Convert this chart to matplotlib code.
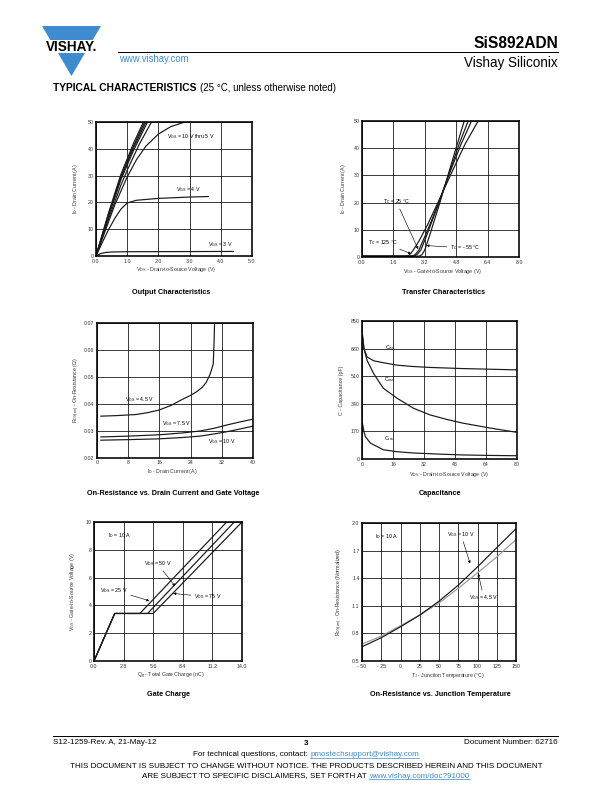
import matplotlib
matplotlib.use('Agg')
import matplotlib.pyplot as plt
from matplotlib.patches import Polygon
from matplotlib.lines import Line2D

plt.rcParams['font.family'] = ['Liberation Sans', 'DejaVu Sans']
plt.rcParams['mathtext.fontset'] = 'custom'
plt.rcParams['mathtext.rm'] = 'Liberation Sans'
plt.rcParams['mathtext.it'] = 'Liberation Sans'
plt.rcParams['mathtext.bf'] = 'Liberation Sans:bold'

# ---------------- DATA ----------------
# Output characteristics (VDS [V], ID [A])
out_vds_10 = [0, 0.4, 0.8, 1.2, 1.52]
out_id_10 = [0, 16, 30.5, 42, 50]
out_vds_9 = [0, 0.4, 0.8, 1.2, 1.56]
out_id_9 = [0, 15.6, 29.8, 41, 50]
out_vds_8 = [0, 0.4, 0.8, 1.2, 1.60]
out_id_8 = [0, 15.2, 29.2, 40.2, 50]
out_vds_7 = [0, 0.4, 0.8, 1.2, 1.65]
out_id_7 = [0, 14.8, 28.5, 39.3, 50]
out_vds_6 = [0, 0.4, 0.8, 1.0, 1.4, 1.78]
out_id_6 = [0, 13.8, 26.5, 32, 42, 50]
out_vds_5 = [0, 0.3, 0.6, 1.0, 1.3, 1.6, 2.0, 2.4, 2.8]
out_id_5 = [0, 9.5, 19, 29.5, 36, 41, 45.5, 48.3, 49.8]
out_vds_4 = [0, 0.2, 0.4, 0.6, 0.8, 1.0, 1.3, 2.0, 3.0, 3.6]
out_id_4 = [0, 5, 9.8, 14, 17.5, 19.8, 20.8, 21.5, 22.0, 22.2]
out_vds_3 = [0, 0.15, 0.3, 0.5, 1.0, 4.4]
out_id_3 = [0, 0.9, 1.3, 1.5, 1.6, 1.7]

# Transfer characteristics (VGS [V], ID [A])
tr_vgs_m55 = [0, 2.9, 3.05, 3.2, 3.45, 3.7, 3.97, 4.4, 4.8, 5.21]
tr_id_m55 = [0.3, 0.3, 0.8, 2.6, 8, 13.8, 20, 30.5, 40.2, 50]
tr_vgs_25 = [0, 2.6, 2.8, 3.0, 3.3, 3.6, 3.95, 4.45, 4.95, 5.41]
tr_id_25 = [0.3, 0.3, 0.8, 2.6, 8, 13.8, 20.5, 31, 41.5, 50]
tr_vgs_b = [0, 2.5, 2.7, 2.9, 3.2, 3.55, 3.93, 4.5, 5.05, 5.58]
tr_id_b = [0.3, 0.3, 0.8, 2.6, 7.5, 13.5, 20.5, 31.5, 41.5, 50]
tr_vgs_125 = [0, 2.2, 2.4, 2.6, 2.9, 3.35, 3.9, 4.6, 5.25, 5.92]
tr_id_125 = [0.3, 0.3, 0.6, 2.4, 5.8, 12, 20.5, 31.5, 41.5, 50]

# On-resistance vs drain current (ID [A], RDS(on) [ohm])
ron_id_45 = [1, 5, 10, 13, 16, 19, 22, 24, 25.5, 27, 28, 29, 29.8, 30.0, 30.15]
ron_r_45 = [0.0355, 0.0357, 0.0361, 0.0368, 0.0378, 0.0395, 0.0418, 0.0432, 0.0445, 0.0462, 0.048, 0.051, 0.0548, 0.062, 0.070]
ron_id_75 = [1, 8, 16, 22, 26.4, 30, 33.2, 36.5, 40]
ron_r_75 = [0.0278, 0.0281, 0.0286, 0.0293, 0.0300, 0.0310, 0.0322, 0.0333, 0.0344]
ron_id_10 = [1, 8, 16, 22, 26.4, 30, 33.2, 36.5, 40]
ron_r_10 = [0.0266, 0.0268, 0.0271, 0.0276, 0.0281, 0.0289, 0.0297, 0.0307, 0.0318]

# Capacitance (VDS [V], C [pF])
cap_v_iss = [0.3, 1, 2.6, 6, 11, 18, 26, 35, 52, 66, 80]
cap_c_iss = [760, 680, 629, 605, 593, 578, 570, 564, 557, 553, 549]
cap_v_oss = [0.3, 1, 2.6, 6, 11, 18, 26.5, 35, 44, 52, 66, 80]
cap_c_oss = [750, 680, 608, 526, 436, 375, 313, 272, 243, 221, 191, 164]
cap_v_rss = [0.3, 1, 1.7, 4.3, 11, 18, 26.5, 40, 52, 66, 80]
cap_c_rss = [215, 170, 139, 98, 57, 45, 37, 30, 25, 22, 20]

# Gate charge (Qg [nC], VGS [V])
gc_q_25 = [0, 1.96, 4.34, 12.55]
gc_v_25 = [0, 3.42, 3.42, 10]
gc_q_50 = [0, 1.96, 5.07, 13.27]
gc_v_50 = [0, 3.42, 3.42, 10]
gc_q_75 = [0, 1.96, 5.60, 14.0]
gc_v_75 = [0, 3.42, 3.42, 10]

# On-resistance vs junction temperature (TJ [C], normalized)
rt_t = [-50, -25, 0, 25, 50, 75, 100, 125, 150]
rt_r_10 = [0.655, 0.753, 0.872, 0.999, 1.15, 1.324, 1.523, 1.732, 1.938]
rt_r_45 = [0.684, 0.771, 0.883, 1.0, 1.13, 1.29, 1.458, 1.631, 1.82]

# Ticks
out_xticks = [0, 1, 2, 3, 4, 5]
out_xtl = ['0.0', '1.0', '2.0', '3.0', '4.0', '5.0']
id_yticks = [0, 10, 20, 30, 40, 50]
id_ytl = ['0', '10', '20', '30', '40', '50']
tr_xticks = [0, 1.6, 3.2, 4.8, 6.4, 8.0]
tr_xtl = ['0.0', '1.6', '3.2', '4.8', '6.4', '8.0']
ron_xticks = [0, 8, 16, 24, 32, 40]
ron_xtl = ['0', '8', '16', '24', '32', '40']
ron_yticks = [0.02, 0.03, 0.04, 0.05, 0.06, 0.07]
ron_ytl = ['0.02', '0.03', '0.04', '0.05', '0.06', '0.07']
cap_xticks = [0, 16, 32, 48, 64, 80]
cap_xtl = ['0', '16', '32', '48', '64', '80']
cap_yticks = [0, 170, 340, 510, 680, 850]
cap_ytl = ['0', '170', '340', '510', '680', '850']
gc_xticks = [0, 2.8, 5.6, 8.4, 11.2, 14.0]
gc_xtl = ['0.0', '2.8', '5.6', '8.4', '11.2', '14.0']
gc_yticks = [0, 2, 4, 6, 8, 10]
gc_ytl = ['0', '2', '4', '6', '8', '10']
rt_xticks = [-50, -25, 0, 25, 50, 75, 100, 125, 150]
rt_xtl = ['- 50', '- 25', '0', '25', '50', '75', '100', '125', '150']
rt_yticks = [0.5, 0.8, 1.1, 1.4, 1.7, 2.0]
rt_ytl = ['0.5', '0.8', '1.1', '1.4', '1.7', '2.0']

# ---------------- FIGURE ----------------
W, H = 612, 792
fig = plt.figure(figsize=(8.5, 11), dpi=72)
fig.patch.set_facecolor('white')

def rect(l, t, r, b):
    return [l / W, 1 - b / H, (r - l) / W, (b - t) / H]

def ft(x, y, s, **kw):
    return fig.text(x / W, 1 - y / H, s, **kw)

TICK_FS = 5.3
LAB_FS = 5.3
ANN_FS = 5.2
TITLE_FS = 7.2
LW = 1.2
ARROW = dict(arrowstyle='-|>', lw=0.6, color='black', mutation_scale=5, shrinkA=1, shrinkB=0)

def style(ax, xlim, ylim, xt, xtl, yt, ytl):
    ax.set_xlim(xlim)
    ax.set_ylim(ylim)
    ax.set_xticks(xt)
    ax.set_xticklabels(xtl)
    ax.set_yticks(yt)
    ax.set_yticklabels(ytl)
    ax.tick_params(length=0, pad=2.5, labelsize=TICK_FS, colors='#333333')
    ax.grid(True, color='black', lw=0.75)
    ax.set_axisbelow(True)
    for s in ax.spines.values():
        s.set_linewidth(1.6)

def labels(xc, xy, xs, yc, yy, ys):
    ft(xc, xy, xs, ha='center', va='center', fontsize=LAB_FS, color='#333333')
    ft(yc, yy, ys, ha='center', va='center', fontsize=LAB_FS, color='#333333', rotation=90)

# 1. Output characteristics
ax1 = fig.add_axes(rect(96, 122, 252, 256))
style(ax1, (0, 5), (0, 50), out_xticks, out_xtl, id_yticks, id_ytl)
for xs, ys in [(out_vds_10, out_id_10), (out_vds_9, out_id_9), (out_vds_8, out_id_8),
               (out_vds_7, out_id_7), (out_vds_6, out_id_6), (out_vds_5, out_id_5),
               (out_vds_4, out_id_4), (out_vds_3, out_id_3)]:
    ax1.plot(xs, ys, color='#1a1a1a', lw=LW, clip_on=True)
ax1.text(2.26, 44.4, 'V$_{\\mathrm{GS}}$ = 10 V thru 5 V', fontsize=ANN_FS, va='center')
ax1.text(2.58, 24.9, 'V$_{\\mathrm{GS}}$ = 4 V', fontsize=ANN_FS, va='center')
ax1.text(3.6, 4.1, 'V$_{\\mathrm{GS}}$ = 3 V', fontsize=ANN_FS, va='center')
labels(176, 270, 'V$_{\\mathrm{DS}}$ - Drain-to-Source Voltage (V)', 75, 189, 'I$_{\\mathrm{D}}$ - Drain Current (A)')
ft(171, 292.5, 'Output Characteristics', ha='center', va='center', fontsize=TITLE_FS, weight='bold')

# 2. Transfer characteristics
ax2 = fig.add_axes(rect(362, 121, 519, 257))
style(ax2, (0, 8), (0, 50), tr_xticks, tr_xtl, id_yticks, id_ytl)
for xs, ys in [(tr_vgs_m55, tr_id_m55), (tr_vgs_25, tr_id_25), (tr_vgs_b, tr_id_b), (tr_vgs_125, tr_id_125)]:
    ax2.plot(xs, ys, color='#1a1a1a', lw=LW)
ax2.annotate('T$_{\\mathrm{C}}$ = 25 °C', xy=(2.86, 2.9), xytext=(1.75, 20.4), fontsize=ANN_FS,
             ha='center', va='center', arrowprops=ARROW)
ax2.annotate('T$_{\\mathrm{C}}$ = 125 °C', xy=(2.5, 1.2), xytext=(1.05, 5.4), fontsize=ANN_FS,
             ha='center', va='center', arrowprops=ARROW)
ax2.annotate('T$_{\\mathrm{C}}$ = - 55 °C', xy=(3.28, 4.2), xytext=(5.25, 3.3), fontsize=ANN_FS,
             ha='center', va='center', arrowprops=ARROW)
labels(443, 271, 'V$_{\\mathrm{GS}}$ - Gate-to-Source Voltage (V)', 343, 189, 'I$_{\\mathrm{D}}$ - Drain Current (A)')
ft(444, 292.5, 'Transfer Characteristics', ha='center', va='center', fontsize=TITLE_FS, weight='bold')

# 3. On-resistance vs drain current
ax3 = fig.add_axes(rect(97, 323, 253, 458))
style(ax3, (0, 40), (0.02, 0.07), ron_xticks, ron_xtl, ron_yticks, ron_ytl)
for xs, ys in [(ron_id_45, ron_r_45), (ron_id_75, ron_r_75), (ron_id_10, ron_r_10)]:
    ax3.plot(xs, ys, color='#1a1a1a', lw=LW)
ax3.text(7.2, 0.0417, 'V$_{\\mathrm{GS}}$ = 4.5 V', fontsize=ANN_FS, va='center')
ax3.text(16.6, 0.0328, 'V$_{\\mathrm{GS}}$ = 7.5 V', fontsize=ANN_FS, va='center')
ax3.text(28.5, 0.0262, 'V$_{\\mathrm{GS}}$ = 10 V', fontsize=ANN_FS, va='center')
labels(172, 471, 'I$_{\\mathrm{D}}$ - Drain Current (A)', 76.5, 390, 'R$_{\\mathrm{DS(on)}}$ - On-Resistance (Ω)')
ft(173, 493, 'On-Resistance vs. Drain Current and Gate Voltage', ha='center', va='center', fontsize=TITLE_FS, weight='bold')

# 4. Capacitance
ax4 = fig.add_axes(rect(362, 321, 517, 459))
style(ax4, (0, 80), (0, 850), cap_xticks, cap_xtl, cap_yticks, cap_ytl)
for xs, ys in [(cap_v_iss, cap_c_iss), (cap_v_oss, cap_c_oss), (cap_v_rss, cap_c_rss)]:
    ax4.plot(xs, ys, color='#1a1a1a', lw=LW)
ax4.text(12, 684, 'C$_{\\mathrm{iss}}$', fontsize=ANN_FS, va='center')
ax4.text(11.5, 488, 'C$_{\\mathrm{oss}}$', fontsize=ANN_FS, va='center')
ax4.text(11.5, 123, 'C$_{\\mathrm{rss}}$', fontsize=ANN_FS, va='center')
labels(449, 474.5, 'V$_{\\mathrm{DS}}$ - Drain-to-Source Voltage (V)', 341.5, 390, 'C - Capacitance (pF)')
ft(440, 493, 'Capacitance', ha='center', va='center', fontsize=TITLE_FS, weight='bold')

# 5. Gate charge
ax5 = fig.add_axes(rect(94, 522, 242, 661))
style(ax5, (0, 14), (0, 10), gc_xticks, gc_xtl, gc_yticks, gc_ytl)
for xs, ys in [(gc_q_25, gc_v_25), (gc_q_50, gc_v_50), (gc_q_75, gc_v_75)]:
    ax5.plot(xs, ys, color='#1a1a1a', lw=LW)
ax5.text(1.33, 9.0, 'I$_{\\mathrm{D}}$ = 10 A', fontsize=ANN_FS, va='center')
ax5.annotate('V$_{\\mathrm{DS}}$ = 50 V', xy=(7.67, 5.38), xytext=(6.0, 7.0), fontsize=ANN_FS,
             ha='center', va='center', arrowprops=ARROW)
ax5.annotate('V$_{\\mathrm{DS}}$ = 25 V', xy=(5.23, 4.33), xytext=(1.9, 5.1), fontsize=ANN_FS,
             ha='center', va='center', arrowprops=ARROW)
ax5.annotate('V$_{\\mathrm{DS}}$ = 75 V', xy=(7.5, 4.86), xytext=(10.75, 4.62), fontsize=ANN_FS,
             ha='center', va='center', arrowprops=ARROW)
labels(171, 676, 'Q$_{\\mathrm{g}}$ - Total Gate Charge (nC)', 72.5, 591, 'V$_{\\mathrm{GS}}$ - Gate-to-Source Voltage (V)')
ft(168, 694, 'Gate Charge', ha='center', va='center', fontsize=TITLE_FS, weight='bold')

# 6. On-resistance vs junction temperature
ax6 = fig.add_axes(rect(362, 523, 516, 661))
style(ax6, (-50, 150), (0.5, 2.0), rt_xticks, rt_xtl, rt_yticks, rt_ytl)
ax6.plot(rt_t, rt_r_45, color='#9a9a9a', lw=LW)
ax6.plot(rt_t, rt_r_10, color='#1a1a1a', lw=LW)
ax6.text(-33.5, 1.855, 'I$_{\\mathrm{D}}$ = 10 A', fontsize=ANN_FS, va='center')
ax6.annotate('V$_{\\mathrm{GS}}$ = 10 V', xy=(90.4, 1.56), xytext=(78.5, 1.877), fontsize=ANN_FS,
             ha='center', va='center', arrowprops=ARROW)
ax6.annotate('V$_{\\mathrm{GS}}$ = 4.5 V', xy=(101, 1.45), xytext=(108, 1.19), fontsize=ANN_FS,
             ha='center', va='center', arrowprops=ARROW)
labels(447.5, 676, 'T$_{\\mathrm{J}}$ - Junction Temperature (°C)', 340, 592, 'R$_{\\mathrm{DS(on)}}$ - On-Resistance (Normalized)')
ft(440, 694, 'On-Resistance vs. Junction Temperature', ha='center', va='center', fontsize=TITLE_FS, weight='bold')

# ---------------- HEADER ----------------
BLUE = '#3f8bcf'
def fpoly(pts, **kw):
    p = Polygon([(x / W, 1 - y / H) for x, y in pts], closed=True, transform=fig.transFigure, **kw)
    fig.patches.append(p)

fpoly([(42, 26), (101, 26), (92.7, 40), (50.3, 40)], facecolor=BLUE, edgecolor='none')
fpoly([(58, 53), (85, 53), (71.5, 76)], facecolor=BLUE, edgecolor='none')
ft(71.5, 47, 'VISHAY.', ha='center', va='center', fontsize=13.5, weight='bold')
fig.lines.append(Line2D([118 / W, 558 / W], [1 - 52 / H, 1 - 52 / H], transform=fig.transFigure, color='black', lw=1.0))
ft(558, 47.5, 'SiS892ADN', ha='right', va='baseline', fontsize=15.5, weight='bold')
ft(558, 67, 'Vishay Siliconix', ha='right', va='baseline', fontsize=13.5)
ft(119, 62.5, 'www.vishay.com', ha='left', va='baseline', fontsize=9.5, color=BLUE)
t = ft(53, 91, 'TYPICAL CHARACTERISTICS', ha='left', va='baseline', fontsize=10.3, weight='heavy')
fig.canvas.draw()
r = fig.canvas.get_renderer()
bb = t.get_window_extent(r)
fig.text(bb.x1 / W + 3 / W, 1 - 91 / H, '(25 °C, unless otherwise noted)', ha='left', va='baseline', fontsize=9.8)

# ---------------- FOOTER ----------------
FOOT_FS = 8
fig.lines.append(Line2D([53 / W, 558 / W], [1 - 736 / H, 1 - 736 / H], transform=fig.transFigure, color='black', lw=1.0))
ft(53, 744.5, 'S12-1259-Rev. A, 21-May-12', ha='left', va='baseline', fontsize=FOOT_FS)
ft(306, 745, '3', ha='center', va='baseline', fontsize=FOOT_FS, weight='bold')
ft(558, 744.5, 'Document Number: 62716', ha='right', va='baseline', fontsize=FOOT_FS)

def mixed_line(y, parts, fs=FOOT_FS):
    texts = []
    for s, link in parts:
        texts.append(fig.text(0, 1 - y / H, s, ha='left', va='baseline', fontsize=fs,
                              color=BLUE if link else 'black'))
    fig.canvas.draw()
    rr = fig.canvas.get_renderer()
    widths = [tt.get_window_extent(rr).width for tt in texts]
    total = sum(widths)
    x = 306 - total / 2
    for tt, w_, (s, link) in zip(texts, widths, parts):
        tt.set_x(x / W)
        if link:
            fig.lines.append(Line2D([x / W, (x + w_) / W], [1 - (y + 1.5) / H, 1 - (y + 1.5) / H],
                                    transform=fig.transFigure, color=BLUE, lw=0.7))
        x += w_

mixed_line(756, [('For technical questions, contact: ', False), ('pmostechsupport@vishay.com', True)])
mixed_line(768.5, [('THIS DOCUMENT IS SUBJECT TO CHANGE WITHOUT NOTICE. THE PRODUCTS DESCRIBED HEREIN AND THIS DOCUMENT', False)])
mixed_line(777.5, [('ARE SUBJECT TO SPECIFIC DISCLAIMERS, SET FORTH AT ', False), ('www.vishay.com/doc?91000', True)])

fig.savefig('out.png', dpi=72)
